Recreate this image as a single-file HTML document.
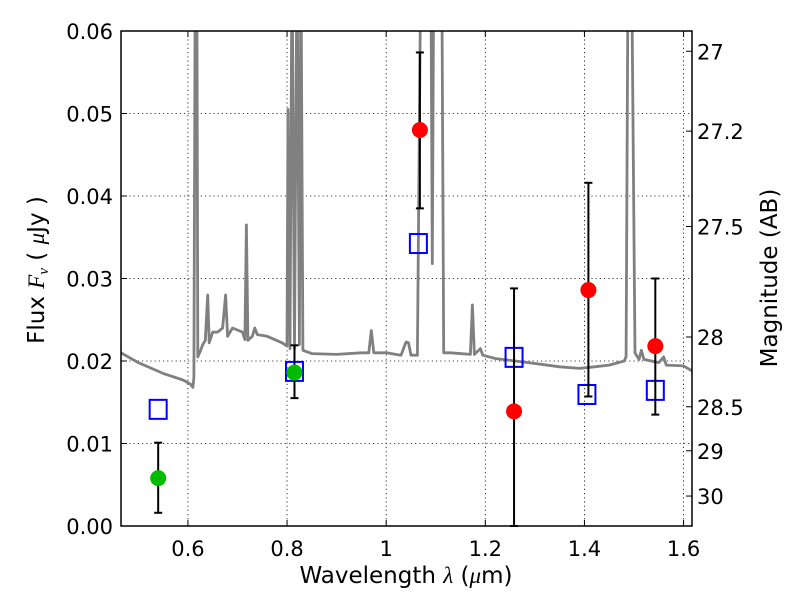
<!DOCTYPE html>
<html><head><meta charset="utf-8"><style>
html,body{margin:0;padding:0;background:#fff;}
svg{display:block;font-family:"DejaVu Sans","Liberation Sans",sans-serif;}
</style></head><body>
<svg id="chart" width="800" height="600" viewBox="0 0 800 600" xmlns="http://www.w3.org/2000/svg">
<defs><clipPath id="plotclip"><rect x="121" y="31" width="571" height="495"/></clipPath></defs>
<g id="grid"></g>
<g id="spec" clip-path="url(#plotclip)"></g>
<g id="marks"></g>
<rect x="121" y="31" width="571" height="495" fill="none" stroke="#000" stroke-width="1.5"/>
<g id="axes"></g>
<text x="406" y="583" font-size="23" text-anchor="middle">Wavelength  <tspan font-style="italic" font-family="Liberation Serif, serif">λ</tspan> (<tspan font-style="italic" font-family="Liberation Serif, serif">μ</tspan>m)</text>
<text transform="translate(44,270) rotate(-90)" font-size="23" text-anchor="middle">Flux  <tspan font-style="italic" font-family="Liberation Serif, serif">F</tspan><tspan font-style="italic" font-family="Liberation Serif, serif" font-size="15" dy="4">ν</tspan><tspan dy="-4">  ( </tspan><tspan font-style="italic" font-family="Liberation Serif, serif">μ</tspan>Jy )</text>
<text transform="translate(777,278) rotate(-90)" font-size="23" text-anchor="middle">Magnitude (AB)</text>
</svg>
<script>
const xTicks=[0.6,0.8,1.0,1.2,1.4,1.6];
const xTickLabels=["0.6","0.8","1","1.2","1.4","1.6"];
const yTicks=[0,0.01,0.02,0.03,0.04,0.05,0.06];
const yTickLabels=["0.00","0.01","0.02","0.03","0.04","0.05","0.06"];
const magTicks=[27,27.2,27.5,28,28.5,29,30];
const magTickLabels=["27","27.2","27.5","28","28.5","29","30"];
const specWave=[0.465,0.50,0.55,0.59,0.605,0.61,0.612,0.615,0.618,0.62,0.625,0.63,0.635,0.64,0.643,0.65,0.66,0.67,0.676,0.68,0.69,0.71,0.715,0.718,0.721,0.73,0.735,0.74,0.76,0.79,0.80,0.802,0.806,0.81,0.815,0.82,0.825,0.828,0.832,0.85,0.9,0.95,0.965,0.97,0.975,1.0,1.03,1.04,1.045,1.05,1.063,1.07,1.09,1.093,1.096,1.112,1.116,1.13,1.17,1.174,1.178,1.19,1.195,1.22,1.26,1.3,1.35,1.39,1.42,1.45,1.48,1.484,1.488,1.495,1.502,1.51,1.515,1.52,1.55,1.56,1.565,1.6,1.617];
const specFlux=[0.021,0.0198,0.0185,0.0177,0.0172,0.0168,0.018,0.07,0.07,0.0205,0.0212,0.022,0.0225,0.028,0.0222,0.0235,0.0235,0.024,0.028,0.023,0.024,0.0235,0.0226,0.0365,0.0225,0.023,0.024,0.0232,0.023,0.0222,0.0218,0.0505,0.0215,0.07,0.0215,0.07,0.022,0.07,0.0213,0.0209,0.0208,0.021,0.021,0.0237,0.021,0.021,0.0207,0.0223,0.0222,0.0207,0.0207,0.07,0.07,0.0318,0.07,0.07,0.021,0.021,0.0208,0.0268,0.0208,0.0215,0.0207,0.0203,0.02,0.0197,0.0193,0.0191,0.0193,0.0195,0.02,0.0205,0.07,0.07,0.021,0.0202,0.0213,0.0202,0.0198,0.0205,0.0195,0.0194,0.0188];
const detWave=[0.54,0.815];
const detFlux=[0.0058,0.0186];
const detLo=[0.0016,0.0155];
const detHi=[0.0101,0.0219];
const redWave=[1.068,1.258,1.408,1.543];
const redFlux=[0.048,0.0139,0.0286,0.0218];
const redLo=[0.0385,0.0,0.0157,0.0135];
const redHi=[0.0574,0.0288,0.0416,0.0300];
const modelWave=[0.54,0.815,1.065,1.258,1.405,1.543];
const modelFlux=[0.0142,0.0188,0.0343,0.0205,0.016,0.0165];

const X0=121,X1=692,Y0=526,Y1=31,xmin=0.465,xmax=1.617,ymin=0,ymax=0.06;
const sx=v=>X0+(v-xmin)/(xmax-xmin)*(X1-X0);
const sy=v=>Y0-(v-ymin)/(ymax-ymin)*(Y0-Y1);
const magToFlux=m=>Math.pow(10,(23.9-m)/2.5);
const NS="http://www.w3.org/2000/svg";
function mk(tag,attrs,parent){const e=document.createElementNS(NS,tag);for(const k in attrs)e.setAttribute(k,attrs[k]);parent.appendChild(e);return e;}
const grid=document.getElementById('grid'),axes=document.getElementById('axes'),spec=document.getElementById('spec'),marks=document.getElementById('marks');

xTicks.forEach((t,i)=>{
  const x=sx(t);
  const g=mk('line',{x1:x,x2:x,y1:Y1,y2:Y0,stroke:'#000','stroke-width':0.8,'stroke-dasharray':'1.2,3'},grid);
  
  
  mk('line',{x1:x,x2:x,y1:Y0,y2:Y0-6,stroke:'#000','stroke-width':1},axes);
  mk('line',{x1:x,x2:x,y1:Y1,y2:Y1+6,stroke:'#000','stroke-width':1},axes);
  const l=mk('text',{x:x,y:Y0+30,'font-size':21,'text-anchor':'middle'},axes);
  l.textContent=xTickLabels[i];
  
  
});
yTicks.forEach((t,i)=>{
  const y=sy(t);
  const g=mk('line',{x1:X0,x2:X1,y1:y,y2:y,stroke:'#000','stroke-width':0.8,'stroke-dasharray':'1.2,3'},grid);
  
  
  mk('line',{x1:X0,x2:X0+6,y1:y,y2:y,stroke:'#000','stroke-width':1},axes);
  const l=mk('text',{x:X0-8,y:y+8,'font-size':21,'text-anchor':'end'},axes);
  l.textContent=yTickLabels[i];
  
  
});
magTicks.forEach((m,i)=>{
  const y=sy(magToFlux(m));
  mk('line',{x1:X1,x2:X1-6,y1:y,y2:y,stroke:'#000','stroke-width':1},axes);
  const l=mk('text',{x:X1+5,y:y+8,'font-size':21,'text-anchor':'start'},axes);
  l.textContent=magTickLabels[i];
  
  
});

const pts=specWave.map((w,i)=>sx(w).toFixed(1)+','+sy(specFlux[i]).toFixed(1)).join(' ');
const pl=mk('polyline',{points:pts,fill:'none',stroke:'#808080','stroke-width':2.8,'stroke-linejoin':'round'},spec);



function errbar(w,lo,hi){
  const x=sx(w),yl=sy(lo),yh=sy(hi);
  const g=mk('g',{stroke:'#000','stroke-width':2},marks);
  
  
  mk('line',{x1:x,x2:x,y1:yl,y2:yh},g);
  mk('line',{x1:x-4,x2:x+4,y1:yl,y2:yl},g);
  mk('line',{x1:x-4,x2:x+4,y1:yh,y2:yh},g);
}
modelWave.forEach((w,i)=>{
  const r=mk('rect',{x:sx(w)-8.5,y:sy(modelFlux[i])-9,width:17,height:19,fill:'none',stroke:'#0000ff','stroke-width':2},marks);
  
  
});
detWave.forEach((w,i)=>{
  errbar(w,detLo[i],detHi[i]);
  const c=mk('ellipse',{cx:sx(w),cy:sy(detFlux[i]),rx:8,ry:8,fill:'#00bb00'},marks);
  
  
});
redWave.forEach((w,i)=>{
  errbar(w,redLo[i],redHi[i]);
  const c=mk('ellipse',{cx:sx(w),cy:sy(redFlux[i]),rx:8,ry:8,fill:'#ff0000'},marks);
  
  
});
</script>
</body></html>
